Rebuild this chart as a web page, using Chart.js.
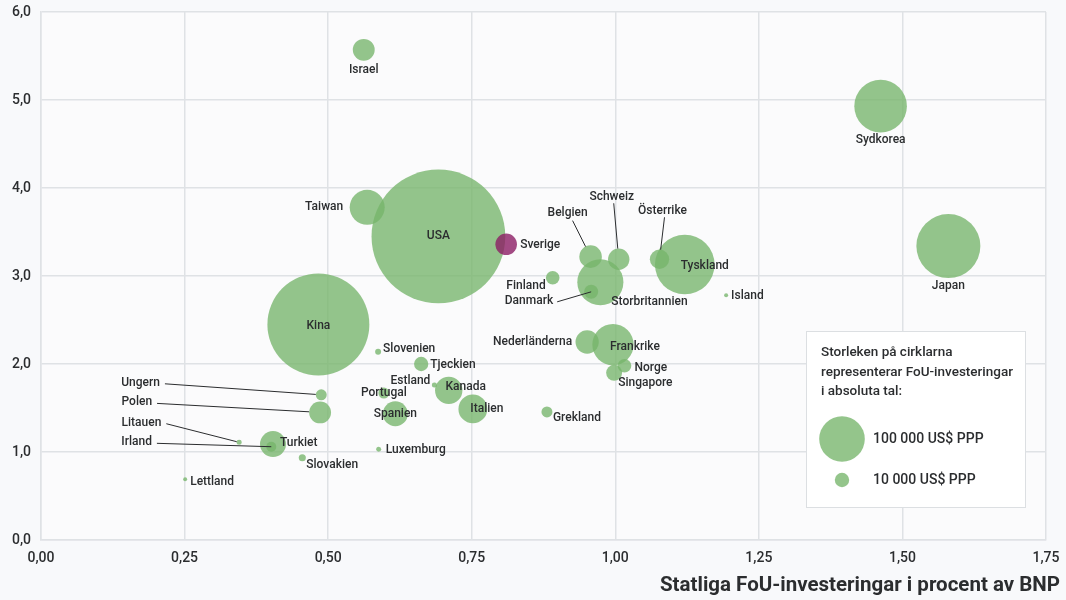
<!DOCTYPE html>
<html lang="sv">
<head>
<meta charset="utf-8">
<title>Statliga FoU-investeringar</title>
<script src="https://cdn.jsdelivr.net/npm/chart.js@4.4.1/dist/chart.umd.min.js"></script>
<style>
  html, body { margin: 0; padding: 0; background: #f8f9fb; }
  #wrap { width: 1066px; height: 600px; }
</style>
</head>
<body>
<div id="wrap"><canvas id="graph-fou"></canvas></div>
<script>
// Länder och värden
const countries = ['USA', 'Kina', 'Japan', 'Tyskland', 'Sydkorea', 'Storbritannien', 'Frankrike',
  'Taiwan', 'Italien', 'Kanada', 'Turkiet', 'Spanien', 'Nederländerna', 'Belgien', 'Israel',
  'Polen', 'Sverige', 'Schweiz', 'Österrike', 'Singapore', 'Finland', 'Danmark', 'Norge',
  'Tjeckien', 'Grekland', 'Portugal', 'Ungern', 'Irland', 'Slovakien', 'Slovenien', 'Estland',
  'Litauen', 'Luxemburg', 'Lettland', 'Island'];

// Statliga FoU-investeringar, % av BNP
const govShare = [0.692, 0.483, 1.580, 1.121, 1.462, 0.974, 0.996,
  0.568, 0.752, 0.710, 0.404, 0.617, 0.951, 0.957, 0.562,
  0.486, 0.810, 1.006, 1.077, 0.998, 0.891, 0.958, 1.016,
  0.662, 0.881, 0.597, 0.488, 0.401, 0.455, 0.587, 0.685,
  0.345, 0.588, 0.251, 1.193];

// Totala FoU-investeringar, % av BNP
const totalShare = [3.45, 2.45, 3.34, 3.13, 4.93, 2.93, 2.22,
  3.78, 1.49, 1.70, 1.09, 1.435, 2.25, 3.22, 5.57,
  1.45, 3.36, 3.19, 3.19, 1.90, 2.98, 2.82, 1.98,
  2.00, 1.455, 1.67, 1.65, 1.06, 0.935, 2.14, 1.76,
  1.11, 1.03, 0.69, 2.78];

// FoU-investeringar i absoluta tal, miljoner US$ PPP
const rdSpend = [860000, 500000, 197000, 171000, 133000, 102000, 82000,
  59000, 40000, 36000, 32500, 30000, 26000, 24500, 23000,
  23000, 22400, 22000, 18000, 12300, 8900, 9500, 9000,
  9800, 5800, 5800, 5800, 4800, 2400, 1700, 1200,
  1200, 1200, 770, 770];

const xTickLabels = ['0,00', '0,25', '0,50', '0,75', '1,00', '1,25', '1,50', '1,75'];
const yTickLabels = ['0,0', '1,0', '2,0', '3,0', '4,0', '5,0', '6,0'];
const legendSizes = [100000, 10000];
const legendSizeLabels = ['100 000 US$ PPP', '10 000 US$ PPP'];

// Etikettplacering: [dx, dy, justering, linje, linjestart dx, linjestart dy]
const labelLayout = {
  'Israel': [0, 20, 'center'],
  'Sydkorea': [0, 34, 'center'],
  'Japan': [0, 40, 'center'],
  'Taiwan': [-24, 0, 'right'],
  'USA': [0, 0, 'center'],
  'Sverige': [14, 1, 'left'],
  'Belgien': [-23, -44, 'center', 'edge', 5, 8],
  'Schweiz': [-7, -62, 'center', 'edge', 2, 6],
  'Österrike': [3, -48, 'center', 'edge', 2, 6],
  'Tyskland': [20, 1, 'center'],
  'Finland': [-7, 8, 'right'],
  'Storbritannien': [11, 20, 'left'],
  'Danmark': [-38, 9, 'right', 'center', 4, 1],
  'Island': [5, 1, 'left'],
  'Nederländerna': [-15, 0, 'right'],
  'Frankrike': [22, 2, 'center'],
  'Norge': [10, 2, 'left'],
  'Singapore': [4, 10, 'left'],
  'Grekland': [6, 6, 'left'],
  'Kina': [0, 2, 'center'],
  'Slovenien': [5, -3, 'left'],
  'Tjeckien': [9, 1, 'left'],
  'Estland': [-4, -4, 'right'],
  'Kanada': [17, -3, 'center'],
  'Portugal': [0, 0, 'center'],
  'Spanien': [0, 0, 'center'],
  'Italien': [14, 0, 'center'],
  'Ungern': [-200, -12, 'left', 'edge'],
  'Polen': [-198.6, -10, 'left', 'edge'],
  'Litauen': [-117.6, -19.6, 'left', 'edge'],
  'Irland': [-150, -4.4, 'left', 'center'],
  'Turkiet': [7, -1, 'left'],
  'Luxemburg': [7, 1, 'left'],
  'Slovakien': [4, 7, 'left'],
  'Lettland': [5, 3, 'left']
};

const GREEN = 'rgba(118, 181, 106, 0.78)';
const PURPLE = 'rgba(140, 30, 100, 0.8)';
const TEXT = '#2b2d2f';
const GRID = '#dfe2e5';
const labelFont = '500 12px Roboto';

// Cirkelns area är proportionell mot beloppet
function bubbleRadius(value) {
  return 22.8 * Math.sqrt(value / 100000);
}

const background = {
  id: 'background',
  beforeDraw(chart) {
    const ctx = chart.ctx;
    ctx.save();
    ctx.fillStyle = '#f8f9fb';
    ctx.fillRect(0, 0, chart.width, chart.height);
    const a = chart.chartArea;
    ctx.fillStyle = '#fbfbfc';
    ctx.fillRect(a.left, a.top, a.right - a.left, a.bottom - a.top);
    ctx.restore();
  }
};

const bubbleLabels = {
  id: 'bubbleLabels',
  afterDatasetsDraw(chart) {
    const ctx = chart.ctx;
    const meta = chart.getDatasetMeta(0);
    ctx.save();
    ctx.font = labelFont;
    ctx.fillStyle = TEXT;
    ctx.strokeStyle = TEXT;
    ctx.lineWidth = 1;
    ctx.textBaseline = 'middle';
    meta.data.forEach((pt, i) => {
      const name = countries[i];
      const [dx, dy, align, leader, lx, ly] = labelLayout[name];
      const x = pt.x + dx;
      const y = pt.y + dy;
      ctx.textAlign = align;
      ctx.fillText(name, x, y);
      if (!leader) return;
      let sx, sy;
      if (lx !== undefined) {
        sx = x + lx; sy = y + ly;
      } else {
        sx = x + ctx.measureText(name).width + 5; sy = y + 1;
      }
      let ex = pt.x, ey = pt.y;
      if (leader === 'edge') {
        const r = pt.options.radius;
        const d = Math.hypot(pt.x - sx, pt.y - sy);
        ex = pt.x - (pt.x - sx) / d * r;
        ey = pt.y - (pt.y - sy) / d * r;
      }
      ctx.beginPath();
      ctx.moveTo(sx, sy);
      ctx.lineTo(ex, ey);
      ctx.stroke();
    });
    ctx.restore();
  }
};

const sizeLegend = {
  id: 'sizeLegend',
  afterDatasetsDraw(chart) {
    const ctx = chart.ctx;
    const a = chart.chartArea;
    const w = 220, h = 177;
    const left = a.right - 20 - w;
    const top = a.bottom - 32 - h;
    ctx.save();
    ctx.fillStyle = '#ffffff';
    ctx.fillRect(left, top, w, h);
    ctx.strokeStyle = '#dcdfe2';
    ctx.lineWidth = 1;
    ctx.strokeRect(left + 0.5, top + 0.5, w - 1, h - 1);

    ctx.fillStyle = TEXT;
    ctx.font = '500 13.5px Roboto';
    ctx.textAlign = 'left';
    ctx.textBaseline = 'middle';
    ['Storleken på cirklarna', 'representerar FoU-investeringar', 'i absoluta tal:']
      .forEach((line, i) => ctx.fillText(line, left + 15, top + 22 + i * 19.3));

    const rows = [108, 149];
    legendSizes.forEach((v, i) => {
      ctx.beginPath();
      ctx.arc(left + 36, top + rows[i], bubbleRadius(v), 0, Math.PI * 2);
      ctx.fillStyle = GREEN;
      ctx.fill();
      ctx.fillStyle = TEXT;
      ctx.font = '500 14px Roboto';
      ctx.fillText(legendSizeLabels[i], left + 67, top + rows[i]);
    });
    ctx.restore();
  }
};

const axisTitle = {
  id: 'axisTitle',
  afterDraw(chart) {
    const ctx = chart.ctx;
    const text = 'Statliga FoU-investeringar i procent av BNP';
    ctx.save();
    ctx.font = 'bold 20px Roboto';
    ctx.fillStyle = TEXT;
    ctx.textAlign = 'right';
    ctx.textBaseline = 'middle';
    const sx = 400 / ctx.measureText(text).width;
    ctx.translate(chart.width - 6, 586);
    ctx.scale(sx, 1);
    ctx.fillText(text, 0, 0);
    ctx.restore();
  }
};

const ctx = document.getElementById('graph-fou');
new Chart(ctx, {
  type: 'bubble',
  data: {
    datasets: [{
      label: 'FoU',
      data: countries.map((c, i) => ({ x: govShare[i], y: totalShare[i] })),
      backgroundColor: countries.map(c => c === 'Sverige' ? PURPLE : GREEN),
      borderWidth: 0,
      radius: (c) => bubbleRadius(rdSpend[c.dataIndex]),
    }]
  },
  options: {
    responsive: true,
    maintainAspectRatio: false,
    animation: false,
    events: [],
    layout: { autoPadding: false, padding: { top: 12, right: 20, left: 0, bottom: 0 } },
    plugins: {
      legend: { display: false },
      tooltip: { enabled: false },
    },
    scales: {
      x: {
        type: 'linear',
        min: 0,
        max: 1.75,
        afterFit: (scale) => {
          scale.height = 60;
          scale.paddingLeft = 0;
          scale.paddingRight = 0;
        },
        afterBuildTicks: (scale) => {
          scale.ticks = xTickLabels.map((t, i) => ({ value: i * 0.25 }));
        },
        ticks: {
          padding: 10,
          color: TEXT,
          font: { family: 'Roboto', size: 14, weight: '500' },
          callback: (v, i) => xTickLabels[i],
        },
        grid: { color: GRID, lineWidth: 1.5, drawTicks: false },
        border: { color: GRID, width: 1.5 },
      },
      y: {
        type: 'linear',
        min: 0,
        max: 6,
        afterFit: (scale) => {
          scale.width = 41;
          scale.paddingTop = 0;
          scale.paddingBottom = 0;
        },
        afterBuildTicks: (scale) => {
          scale.ticks = yTickLabels.map((t, i) => ({ value: i }));
        },
        ticks: {
          padding: 10,
          color: TEXT,
          font: { family: 'Roboto', size: 14, weight: '500' },
          callback: (v, i) => yTickLabels[i],
        },
        grid: { color: GRID, lineWidth: 1.5, drawTicks: false },
        border: { color: GRID, width: 1.5 },
      },
    },
  },
  plugins: [background, sizeLegend, bubbleLabels, axisTitle],
});
</script>
</body>
</html>
